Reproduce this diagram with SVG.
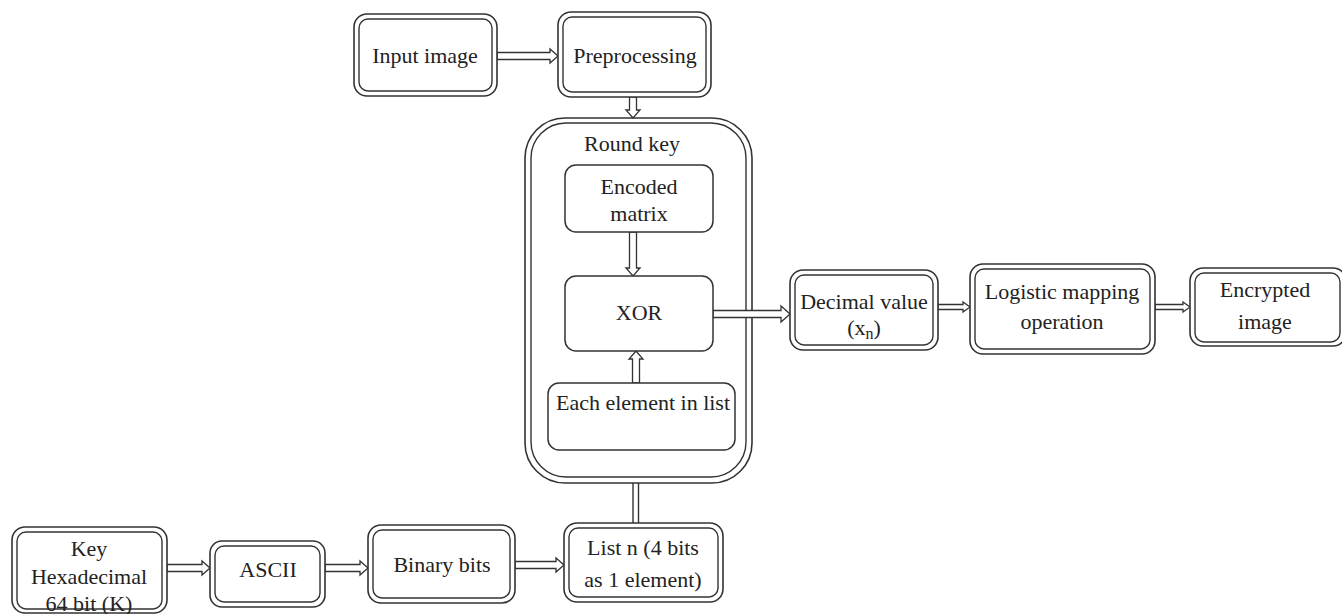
<svg xmlns="http://www.w3.org/2000/svg" width="1342" height="614" viewBox="0 0 1342 614">
<style>
.o{fill:#fff;stroke:#333;stroke-width:1.6}
.i{fill:none;stroke:#333;stroke-width:1.4}
.s{fill:#fff;stroke:#333;stroke-width:1.5}
.a{fill:#fff;stroke:#333;stroke-width:1.3;stroke-linejoin:miter}
.l{fill:none;stroke:#333;stroke-width:1.4}
.t{font-family:"Times New Roman",Times,"Liberation Serif","DejaVu Serif","Noto Serif",serif;font-size:22px;fill:#222;text-anchor:middle}
</style>
<rect width="1342" height="614" fill="#fff"/>
<g id="round-key">
<rect class="o" x="525" y="118" width="227" height="365" rx="40"/>
<rect class="i" x="531" y="123" width="215" height="354" rx="35"/>
<text class="t" x="632" y="151">Round key</text>
</g>
<g id="connectors">
<path class="a" d="M497,52.5 L550,52.5 L550,49 L558,56 L550,63 L550,59.5 L497,59.5 Z"/>
<path class="a" d="M629.5,97 L629.5,110 L626,110 L633,118 L640,110 L636.5,110 L636.5,97 Z"/>
<path class="a" d="M629.5,232 L629.5,268 L626,268 L633,276 L640,268 L636.5,268 L636.5,232 Z"/>
<path class="a" d="M632.5,383 L632.5,359 L629,359 L636,351 L643,359 L639.5,359 L639.5,383 Z"/>
<path class="a" d="M713,310.5 L781,310.5 L781,306 L790,314 L781,322 L781,317.5 L713,317.5 Z"/>
<path class="a" d="M938,304.5 L963,304.5 L963,302 L970,307 L963,312 L963,309.5 L938,309.5 Z"/>
<path class="a" d="M1155,304.5 L1183,304.5 L1183,302 L1190,307 L1183,312 L1183,309.5 L1155,309.5 Z"/>
<path class="a" d="M167,564.5 L202,564.5 L202,561 L210,568 L202,575 L202,571.5 L167,571.5 Z"/>
<path class="a" d="M325,564.5 L360,564.5 L360,561 L368,568 L360,575 L360,571.5 L325,571.5 Z"/>
<path class="a" d="M515,561.5 L556,561.5 L556,558 L564,565 L556,572 L556,568.5 L515,568.5 Z"/>
<line class="l" x1="633" y1="483" x2="633" y2="523"/>
<line class="l" x1="638.5" y1="483" x2="638.5" y2="523"/>
</g>
<g id="input-image">
<rect class="o" x="354" y="14" width="143" height="82" rx="13"/>
<rect class="i" x="359" y="19" width="133" height="72" rx="9"/>
<text class="t" x="425" y="63">Input image</text>
</g>
<g id="preprocessing">
<rect class="o" x="558" y="12" width="153" height="85" rx="13"/>
<rect class="i" x="563" y="17" width="143" height="75" rx="9"/>
<text class="t" x="635" y="63">Preprocessing</text>
</g>
<g id="encoded-matrix">
<rect class="s" x="565" y="165" width="148" height="67" rx="11"/>
<text class="t" x="639" y="194">Encoded</text>
<text class="t" x="639" y="221">matrix</text>
</g>
<g id="xor">
<rect class="s" x="565" y="276" width="148" height="75" rx="11"/>
<text class="t" x="639" y="320">XOR</text>
</g>
<g id="each-element">
<rect class="s" x="548" y="383" width="187" height="67" rx="11"/>
<text class="t" x="643" y="410">Each element in list</text>
</g>
<g id="decimal-value">
<rect class="o" x="790" y="270" width="148" height="80" rx="13"/>
<rect class="i" x="795" y="275" width="138" height="70" rx="9"/>
<text class="t" x="864" y="309">Decimal value</text>
<text class="t" x="864" y="335">(x<tspan font-size="16" dy="4">n</tspan><tspan dy="-4">)</tspan></text>
</g>
<g id="logistic-mapping">
<rect class="o" x="970" y="264" width="185" height="90" rx="13"/>
<rect class="i" x="975" y="269" width="175" height="80" rx="9"/>
<text class="t" x="1062" y="299">Logistic mapping</text>
<text class="t" x="1062" y="329">operation</text>
</g>
<g id="encrypted-image">
<rect class="o" x="1190" y="268" width="156" height="78" rx="13"/>
<rect class="i" x="1195" y="273" width="145" height="69" rx="9"/>
<text class="t" x="1265" y="297">Encrypted</text>
<text class="t" x="1265" y="329">image</text>
</g>
<g id="key">
<rect class="o" x="12" y="527" width="155" height="86" rx="13"/>
<rect class="i" x="17" y="532" width="145" height="77" rx="9"/>
<text class="t" x="89" y="556">Key</text>
<text class="t" x="89" y="584">Hexadecimal</text>
<text class="t" x="89" y="611">64 bit (K)</text>
</g>
<g id="ascii">
<rect class="o" x="210" y="541" width="115" height="66" rx="12"/>
<rect class="i" x="215" y="546" width="105" height="56" rx="9"/>
<text class="t" x="268" y="577">ASCII</text>
</g>
<g id="binary-bits">
<rect class="o" x="368" y="525" width="147" height="78" rx="13"/>
<rect class="i" x="373" y="530" width="137" height="68" rx="9"/>
<text class="t" x="442" y="572">Binary bits</text>
</g>
<g id="list-n">
<rect class="o" x="564" y="523" width="159" height="79" rx="13"/>
<rect class="i" x="569" y="528" width="149" height="69" rx="9"/>
<text class="t" x="643" y="555">List n (4 bits</text>
<text class="t" x="643" y="587">as 1 element)</text>
</g>
</svg>
